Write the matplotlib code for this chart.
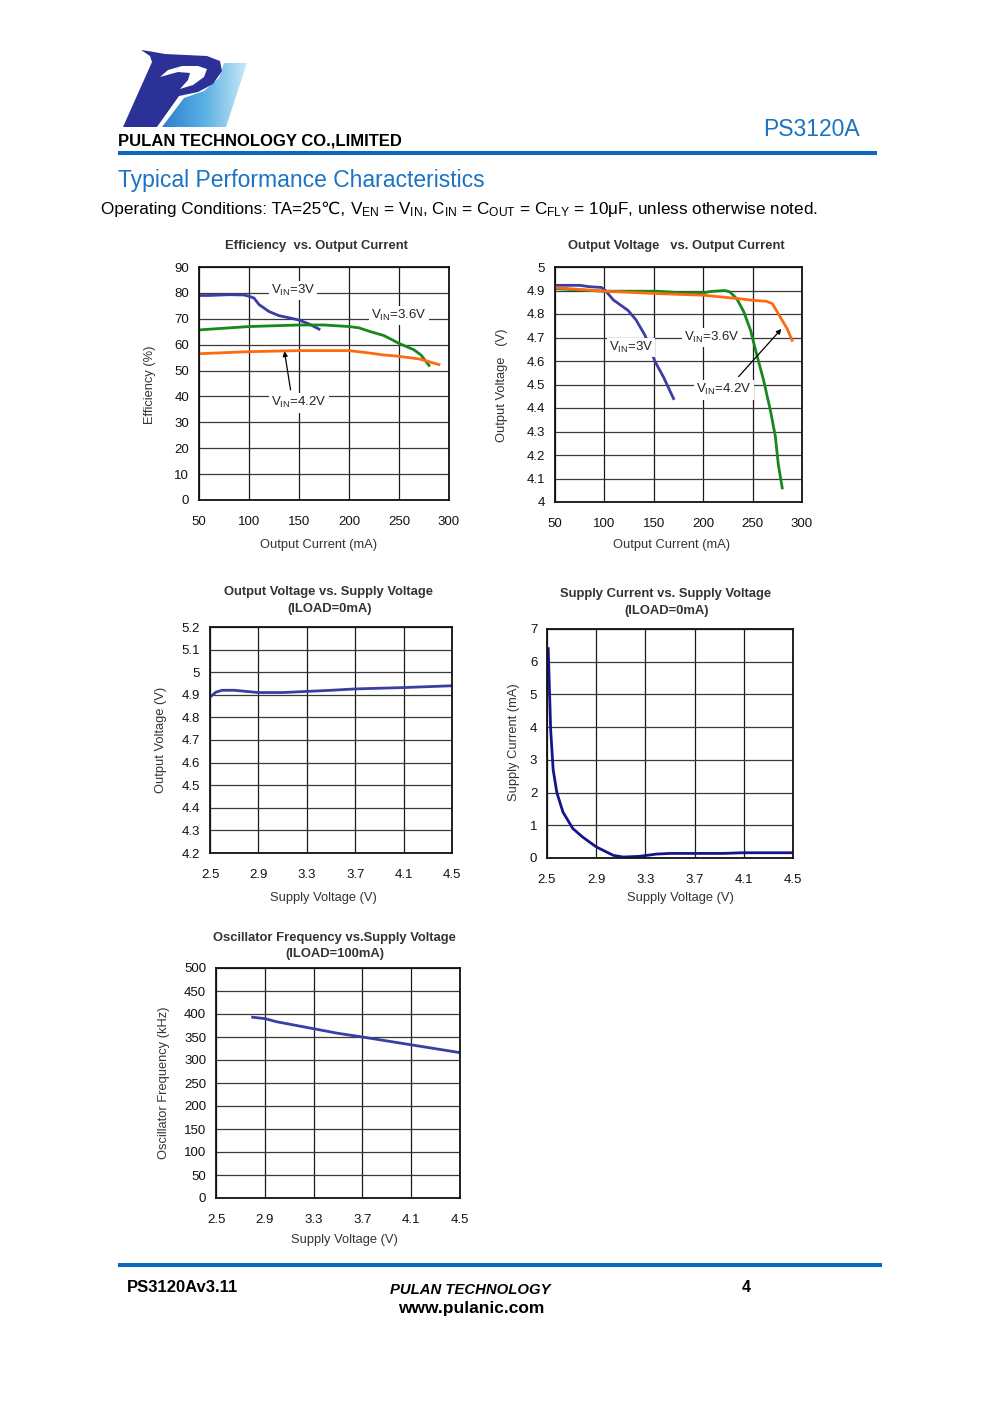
import numpy as np
import matplotlib
matplotlib.use("Agg")
import matplotlib.pyplot as plt
from matplotlib.patches import Polygon, Rectangle
from matplotlib.colors import LinearSegmentedColormap

plt.rcParams['font.family'] = ['Liberation Sans', 'DejaVu Sans']
plt.rcParams['mathtext.fontset'] = 'custom'
plt.rcParams['mathtext.rm'] = 'Liberation Sans'
plt.rcParams['mathtext.it'] = 'Liberation Sans:italic'
plt.rcParams['mathtext.bf'] = 'Liberation Sans:bold'

# ---------------- data ----------------
# Chart 1: Efficiency vs Output Current
eff_x_3v = [50, 60, 80, 95, 100, 105, 110, 120, 130, 140, 150, 160, 170]
eff_y_3v = [79, 79, 79.3, 79.2, 78.7, 78, 75.5, 72.8, 71.2, 70.4, 69.5, 68, 66]
eff_x_36v = [50, 100, 150, 175, 200, 210, 220, 235, 250, 265, 272, 280]
eff_y_36v = [65.7, 67, 67.6, 67.6, 67, 66.5, 65.2, 63.5, 60.5, 58, 56, 52]
eff_x_42v = [50, 100, 150, 200, 220, 235, 245, 260, 270, 290]
eff_y_42v = [56.5, 57.3, 57.7, 57.7, 56.8, 56, 55.7, 55, 54.5, 52.3]

# Chart 2: Output Voltage vs Output Current
vo_x_3v = [50, 75, 85, 97, 101, 109, 124, 132, 141, 151, 160, 170]
vo_y_3v = [4.922, 4.922, 4.916, 4.913, 4.90, 4.86, 4.815, 4.775, 4.71, 4.60, 4.53, 4.44]
vo_x_36v = [50, 99, 153, 180, 200, 208, 222, 227, 234, 241, 248, 254, 261, 268, 273, 276, 280]
vo_y_36v = [4.908, 4.897, 4.897, 4.89, 4.89, 4.896, 4.90, 4.894, 4.865, 4.81, 4.73, 4.63, 4.52, 4.39, 4.28, 4.16, 4.06]
vo_x_42v = [50, 100, 153, 200, 234, 251, 264, 270, 278, 285, 290]
vo_y_42v = [4.912, 4.897, 4.887, 4.88, 4.866, 4.858, 4.854, 4.844, 4.787, 4.737, 4.688]

# Chart 3: Output Voltage vs Supply Voltage
vs_x = [2.5, 2.55, 2.6, 2.7, 2.9, 3.1, 3.3, 3.5, 3.7, 4.1, 4.5]
vs_y = [4.89, 4.912, 4.92, 4.92, 4.91, 4.91, 4.915, 4.92, 4.926, 4.932, 4.94]

# Chart 4: Supply Current vs Supply Voltage
is_x = [2.51, 2.53, 2.55, 2.58, 2.63, 2.71, 2.79, 2.90, 3.04, 3.12, 3.25, 3.39, 3.50, 3.93, 4.09, 4.5]
is_y = [6.4, 3.9, 2.7, 2.0, 1.4, 0.9, 0.64, 0.34, 0.08, 0.03, 0.05, 0.12, 0.14, 0.14, 0.16, 0.16]

# Chart 5: Oscillator Frequency vs Supply Voltage
fo_x = [2.8, 2.9, 3.0, 3.1, 3.3, 3.5, 3.7, 4.1, 4.5]
fo_y = [393, 390, 383, 378, 368, 358, 350, 333, 316]

current_ticks = [50, 100, 150, 200, 250, 300]
eff_ticks = [0, 10, 20, 30, 40, 50, 60, 70, 80, 90]
vout_ticks = [4, 4.1, 4.2, 4.3, 4.4, 4.5, 4.6, 4.7, 4.8, 4.9, 5]
vout_ticklabels = ['4', '4.1', '4.2', '4.3', '4.4', '4.5', '4.6', '4.7', '4.8', '4.9', '5']
vsup_ticks = [2.5, 2.9, 3.3, 3.7, 4.1, 4.5]
vout2_ticks = [4.2, 4.3, 4.4, 4.5, 4.6, 4.7, 4.8, 4.9, 5.0, 5.1, 5.2]
vout2_ticklabels = ['4.2', '4.3', '4.4', '4.5', '4.6', '4.7', '4.8', '4.9', '5', '5.1', '5.2']
isup_ticks = [0, 1, 2, 3, 4, 5, 6, 7]
freq_ticks = [0, 50, 100, 150, 200, 250, 300, 350, 400, 450, 500]

# ---------------- figure ----------------
W, H = 991, 1403
fig = plt.figure(figsize=(W / 100, H / 100), dpi=100)
fig.patch.set_facecolor('white')

deco = fig.add_axes([0, 0, 1, 1])
deco.set_xlim(0, W)
deco.set_ylim(H, 0)
deco.axis('off')

BLUE = '#1a73c4'

def ax_at(l, t, r, b):
    return fig.add_axes([l / W, 1 - b / H, (r - l) / W, (b - t) / H])

def style(ax, xlim, ylim, xt, yt, xtl=None, ytl=None, xpad=11.5, ypad=7):
    ax.set_xlim(*xlim)
    ax.set_ylim(*ylim)
    ax.set_xticks(xt)
    ax.set_yticks(yt)
    ax.set_xticklabels(xtl if xtl is not None else [str(v) for v in xt])
    ax.set_yticklabels(ytl if ytl is not None else [str(v) for v in yt])
    ax.tick_params(length=0, labelsize=9.5, labelcolor='#111111')
    ax.tick_params(axis='x', pad=xpad)
    ax.tick_params(axis='y', pad=ypad)
    ax.xaxis.grid(True, color='#1a1a1a', lw=0.9)
    ax.yaxis.grid(True, color='#3a3a3a', lw=0.9)
    ax.set_axisbelow(True)
    for s in ax.spines.values():
        s.set_color('#111111')
        s.set_linewidth(1.3)

def ptext(x, y, s, **kw):
    return deco.text(x, y, s, **kw)

lab = dict(fontsize=9.3, color='#333333', ha='center', va='center')
ttl = dict(fontsize=9.4, color='#333333', ha='center', va='center', fontweight='bold')
box = dict(facecolor='white', edgecolor='none', pad=1.5)

# ---- Chart 1
ax1 = ax_at(199, 267, 449, 500)
style(ax1, (50, 300), (0, 90), current_ticks, eff_ticks)
ax1.plot(eff_x_3v, eff_y_3v, color='#3a3ea3', lw=2)
ax1.plot(eff_x_36v, eff_y_36v, color='#16891a', lw=2)
ax1.plot(eff_x_42v, eff_y_42v, color='#ff6a10', lw=2)
ax1.text(144, 80.8, r'V$_{\mathrm{IN}}$=3V', fontsize=9.5, ha='center', va='center', color='#222', bbox=box)
ax1.text(250, 71.3, r'V$_{\mathrm{IN}}$=3.6V', fontsize=9.5, ha='center', va='center', color='#222', bbox=box)
ax1.text(150, 37.5, r'V$_{\mathrm{IN}}$=4.2V', fontsize=9.5, ha='center', va='center', color='#222', bbox=box)
ax1.annotate('', xy=(135, 58.5), xytext=(142, 41.5),
             arrowprops=dict(arrowstyle='-|>', color='black', lw=0.9, mutation_scale=7))
ptext(316, 246, 'Efficiency  vs. Output Current', **ttl)
ptext(319, 545, 'Output Current (mA)', **lab)
ptext(150, 385, 'Efficiency (%)', rotation=90, **lab)

# ---- Chart 2
ax2 = ax_at(555, 267, 802, 502)
style(ax2, (50, 300), (4, 5), current_ticks, vout_ticks, ytl=vout_ticklabels)
ax2.plot(vo_x_3v, vo_y_3v, color='#3a3ea3', lw=2)
ax2.plot(vo_x_36v, vo_y_36v, color='#16891a', lw=2)
ax2.plot(vo_x_42v, vo_y_42v, color='#ff6a10', lw=2)
ax2.text(127, 4.658, r'V$_{\mathrm{IN}}$=3V', fontsize=9.5, ha='center', va='center', color='#222', bbox=box, zorder=5)
ax2.text(209, 4.70, r'V$_{\mathrm{IN}}$=3.6V', fontsize=9.5, ha='center', va='center', color='#222', bbox=box, zorder=5)
ax2.text(221, 4.477, r'V$_{\mathrm{IN}}$=4.2V', fontsize=9.5, ha='center', va='center', color='#222', bbox=box, zorder=5)
ax2.annotate('', xy=(281, 4.745), xytext=(234, 4.525),
             arrowprops=dict(arrowstyle='-|>', color='black', lw=0.9, mutation_scale=7), zorder=6)
ptext(676, 246, 'Output Voltage   vs. Output Current', **ttl)
ptext(672, 545, 'Output Current (mA)', **lab)
ptext(502, 385, 'Output Voltage   (V)', rotation=90, **lab)

# ---- Chart 3
ax3 = ax_at(210, 627, 452, 853)
style(ax3, (2.5, 4.5), (4.2, 5.2), vsup_ticks, vout2_ticks, ytl=vout2_ticklabels)
ax3.plot(vs_x, vs_y, color='#3a3ea3', lw=2)
ptext(329, 592, 'Output Voltage vs. Supply Voltage', **ttl)
ptext(330, 609, '(ILOAD=0mA)', **ttl)
ptext(323, 898, 'Supply Voltage (V)', **lab)
ptext(161, 740, 'Output Voltage (V)', rotation=90, **lab)

# ---- Chart 4
ax4 = ax_at(547, 629, 793, 858)
style(ax4, (2.5, 4.5), (0, 7), vsup_ticks, isup_ticks)
ax4.plot(is_x, is_y, color='#15158a', lw=2)
ptext(666, 594, 'Supply Current vs. Supply Voltage', **ttl)
ptext(667, 611, '(ILOAD=0mA)', **ttl)
ptext(680, 898, 'Supply Voltage (V)', **lab)
ptext(514, 742, 'Supply Current (mA)', rotation=90, **lab)

# ---- Chart 5
ax5 = ax_at(216, 968, 460, 1198)
style(ax5, (2.5, 4.5), (0, 500), vsup_ticks, freq_ticks)
ax5.plot(fo_x, fo_y, color='#3a3ea3', lw=2)
ptext(334, 938, 'Oscillator Frequency vs.Supply Voltage', **ttl)
ptext(335, 954, '(ILOAD=100mA)', **ttl)
ptext(344, 1240, 'Supply Voltage (V)', **lab)
ptext(164, 1083, 'Oscillator Frequency (kHz)', rotation=90, **lab)

# ---------------- header ----------------
# logo (approximation)
grad = np.linspace(0, 1, 256).reshape(1, -1)
cmap = LinearSegmentedColormap.from_list('lg', ['#2a7ccc', '#59b0e4', '#cdeaf8'])
im = deco.imshow(grad, extent=[160, 248, 127, 62], cmap=cmap, aspect='auto', zorder=1)
clip = Polygon([(162, 127), (226, 127), (247, 63), (224, 63), (219, 78),
                (204, 91), (184, 98)], closed=True, transform=deco.transData)
im.set_clip_path(clip)
DARK = '#2b3196'
deco.add_patch(Polygon([(123, 127), (157, 127), (179, 96), (198, 92), (213, 84),
                        (222, 71), (220, 61), (207, 56), (186, 55), (165, 54),
                        (148, 51), (141, 50), (150, 56), (152, 62)],
                       closed=True, facecolor=DARK, edgecolor='none', zorder=2))
deco.add_patch(Polygon([(160, 77), (168, 70), (182, 66), (198, 66), (207, 69),
                        (204, 77), (193, 85), (180, 89), (188, 80), (190, 73),
                        (178, 72)], closed=True, facecolor='white', edgecolor='none', zorder=3))

ptext(118, 141, 'PULAN TECHNOLOGY CO.,LIMITED', fontsize=12, fontweight='bold', color='black', ha='left', va='center')
ptext(860, 130, 'PS3120A', fontsize=16.5, color=BLUE, ha='right', va='center')
deco.add_patch(Rectangle((118, 151), 759, 4, facecolor='#0a6cc0', edgecolor='none'))
ptext(118, 180, 'Typical Performance Characteristics', fontsize=16.5, color=BLUE, ha='left', va='center')

# operating conditions line: plain part (with glyph fallback) + mathtext part
OPFS = 12.3
t1 = ptext(101, 214, 'Operating Conditions: TA=25℃, ', fontsize=OPFS, color='black',
           ha='left', va='baseline', family=['Liberation Sans', 'DejaVu Sans'])
fig.canvas.draw()
bb = t1.get_window_extent(renderer=fig.canvas.get_renderer())
x_next = deco.transData.inverted().transform((bb.x1, bb.y0))[0]
ptext(x_next, 214, r'V$_{\mathrm{EN}}$ = V$_{\mathrm{IN}}$, C$_{\mathrm{IN}}$ = C$_{\mathrm{OUT}}$ = C$_{\mathrm{FLY}}$ = 10μF, unless otherwise noted.',
      fontsize=OPFS, color='black', ha='left', va='baseline')

# ---------------- footer ----------------
deco.add_patch(Rectangle((118, 1263), 764, 4, facecolor='#0a6cc0', edgecolor='none'))
ptext(127, 1287, 'PS3120Av3.11', fontsize=12, fontweight='bold', color='black', ha='left', va='center')
ptext(470, 1290, 'PULAN TECHNOLOGY', fontsize=10.7, fontweight='bold', style='italic', color='black', ha='center', va='center')
ptext(471, 1308, 'www.pulanic.com', fontsize=12.5, fontweight='bold', color='black', ha='center', va='center')
ptext(746, 1287, '4', fontsize=11.5, fontweight='bold', color='black', ha='center', va='center')

fig.savefig('out.png', dpi=100)
